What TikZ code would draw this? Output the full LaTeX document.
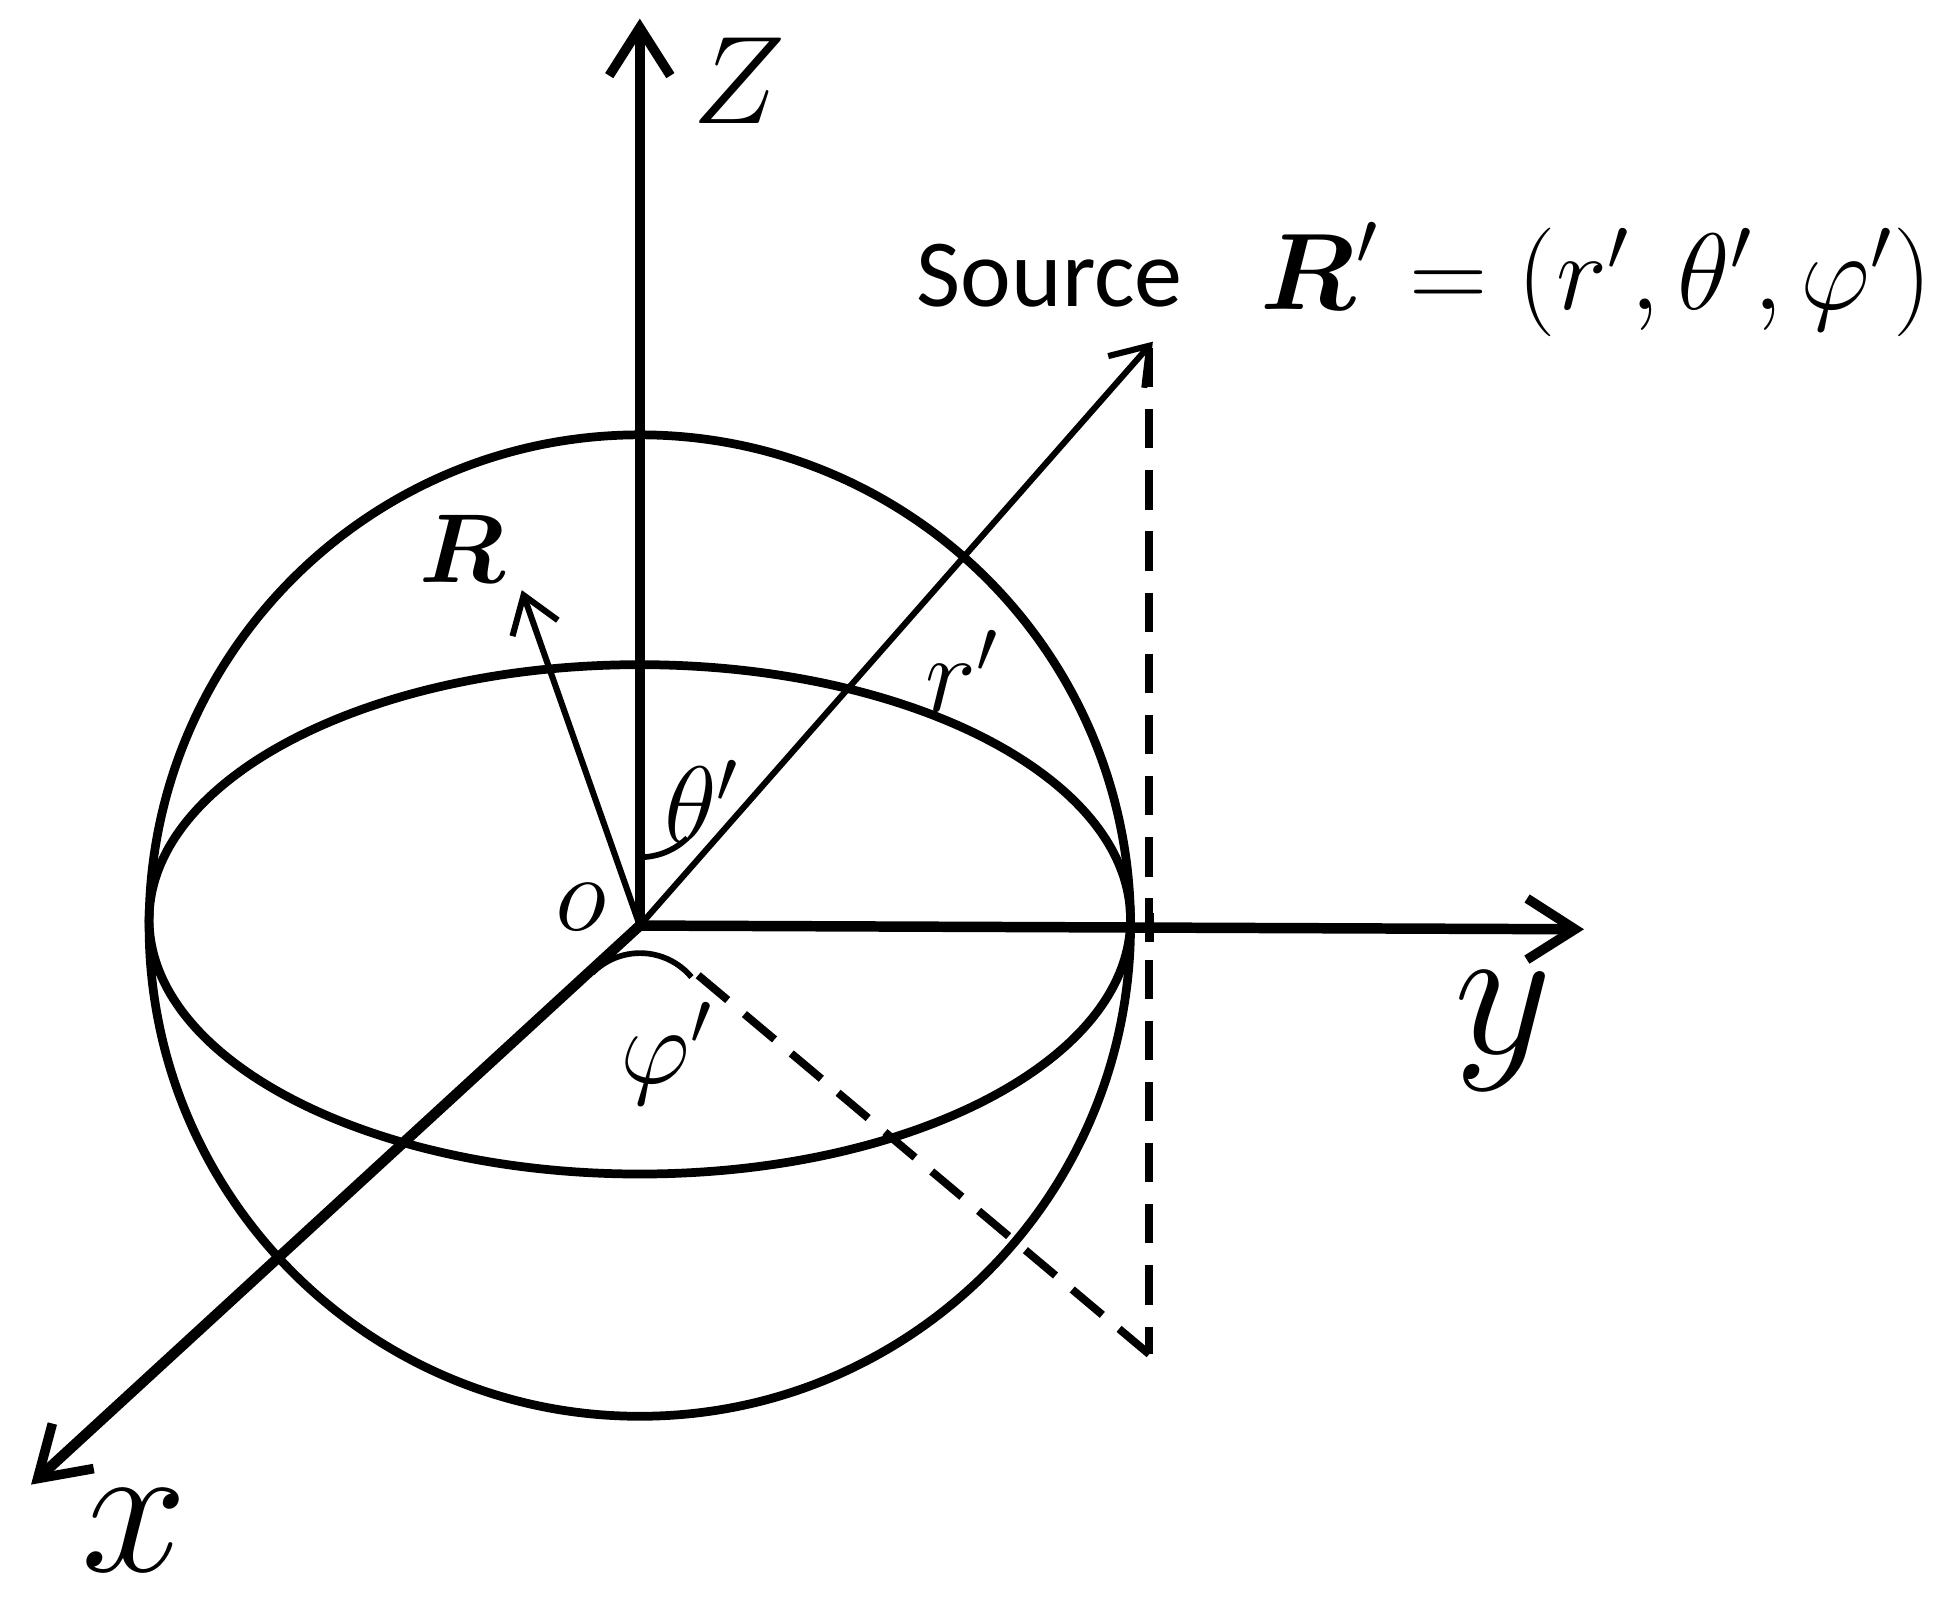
\documentclass[tikz,border=0pt]{standalone}
\usepackage{amsmath}
\usepackage{fontspec}
\newfontfamily\srcfont{Carlito}
\usetikzlibrary{arrows.meta}
\begin{document}
\begin{tikzpicture}[x=0.01cm,y=-0.01cm,
  axis/.style={line width=2.4pt,-{Straight Barb[length=11pt,width=14pt,line width=2.2pt]}},
  thin/.style={line width=1.4pt,-{Straight Barb[length=8pt,width=11pt,line width=1.4pt]}},
  sph/.style={line width=2pt},
  dsh/.style={line width=1.8pt,dash pattern=on 9pt off 5pt},
  lbl/.style={inner sep=0pt,font=\fontsize{24}{24}\selectfont}]
\useasboundingbox (0,0) rectangle (1568,1302);
\coordinate (O) at (515,745);
\coordinate (Zt) at (515,15);
\coordinate (Yt) at (1275,748);
\coordinate (Xt) at (25,1195);
\coordinate (S) at (928,275);
\coordinate (Rt) at (420,475);
\coordinate (F) at (925,1090);
\coordinate (Fs) at (562,785);
\draw[sph] (O) circle[radius=395];
\draw[sph] (515,740) ellipse[x radius=395,y radius=205];
\draw[axis] (O) -- (Zt);
\draw[axis] (O) -- (Yt);
\draw[axis] (O) -- (Xt);
\draw[thin] (O) -- (S);
\draw[thin] (O) -- (Rt);
\draw[dsh] (925,280) -- (F);
\draw[dsh] (F) -- (Fs);
\draw[line width=2pt] (925,735) -- (925,758);
\draw[line width=1.3pt] (515,690) arc[start angle=90,end angle=46,radius=55];
\draw[line width=1.3pt] (477,783) arc[start angle=225,end angle=320,radius=54];
\node[lbl] (zl) at (595,65) {\scalebox{1.15}{$Z$}};
\node[lbl] (yl) at (1210,830) {\scalebox{1.75}{$y$}};
\node[lbl] (xl) at (108,1232) {\scalebox{1.75}{$x$}};
\node[lbl] (rl) at (372,442) {\scalebox{0.9}{$\boldsymbol{R}$}};
\node[lbl] (ol) at (468,730) {$o$};
\node[lbl] (tl) at (565,645) {$\theta'$};
\node[lbl] (pl) at (537,848) {$\varphi'$};
\node[lbl] (rpl) at (775,540) {$r'$};
\node[lbl,font=\fontsize{22}{22}\srcfont] (src) at (845,222) {Source};
\node[lbl] (eq) at (1285,225) {$\boldsymbol{R}'=(r',\theta',\varphi')$};
\end{tikzpicture}
\end{document}
